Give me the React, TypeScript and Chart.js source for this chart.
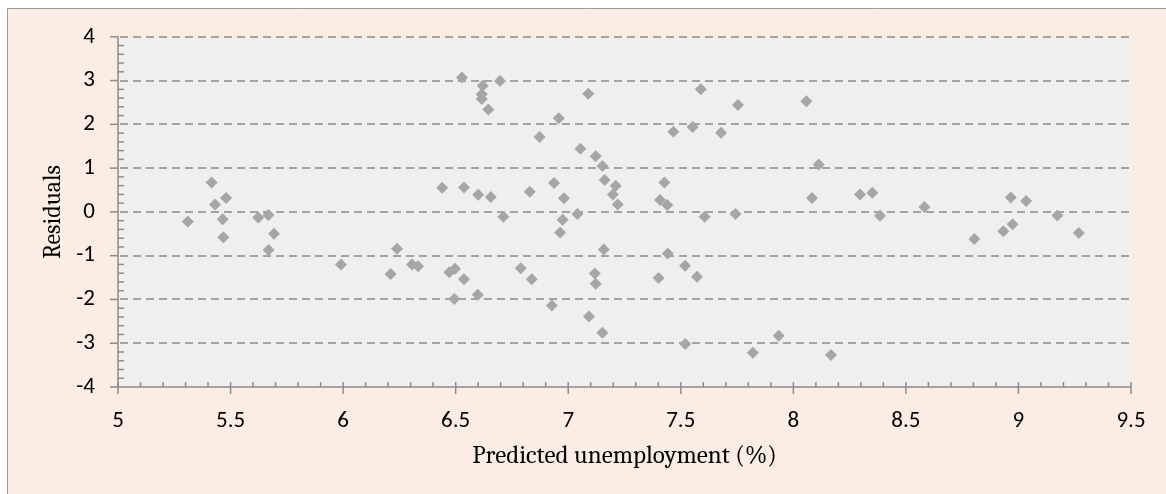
import React, { useEffect, useRef } from "react";
import { Chart, registerables } from "chart.js";

Chart.register(...registerables);

const predicted: number[] = [
  5.31, 5.416, 5.431, 5.48, 5.465, 5.468, 5.623, 5.668, 5.693, 5.669,
  5.991, 6.211, 6.239, 6.306, 6.333, 6.44, 6.472, 6.497, 6.494, 6.528,
  6.537, 6.537, 6.598, 6.6, 6.616, 6.616, 6.62, 6.645, 6.656, 6.697,
  6.712, 6.789, 6.829, 6.838, 6.873, 6.927, 6.937, 6.958, 6.964, 6.975,
  6.981, 7.041, 7.054, 7.089, 7.092, 7.118, 7.122, 7.122, 7.152, 7.152,
  7.158, 7.162, 7.198, 7.211, 7.22, 7.402, 7.408, 7.427, 7.44, 7.442,
  7.467, 7.519, 7.52, 7.553, 7.572, 7.589, 7.606, 7.679, 7.743, 7.754,
  7.82, 7.935, 8.058, 8.083, 8.113, 8.167, 8.296, 8.351, 8.385, 8.582,
  8.804, 8.933, 8.966, 8.974, 9.034, 9.173, 9.268,
];

const residuals: number[] = [
  -0.22, 0.67, 0.17, 0.32, -0.17, -0.58, -0.13, -0.07, -0.5, -0.87,
  -1.2, -1.42, -0.84, -1.2, -1.24, 0.55, -1.38, -1.3, -1.99, 3.07,
  0.56, -1.54, -1.89, 0.39, 2.69, 2.58, 2.88, 2.34, 0.34, 2.99,
  -0.11, -1.29, 0.46, -1.54, 1.71, -2.14, 0.66, 2.14, -0.47, -0.18,
  0.31, -0.05, 1.44, 2.7, -2.39, -1.41, -1.64, 1.27, 1.05, -2.76,
  -0.86, 0.73, 0.4, 0.6, 0.17, -1.51, 0.27, 0.67, 0.16, -0.95,
  1.83, -1.23, -3.02, 1.94, -1.48, 2.8, -0.11, 1.81, -0.05, 2.44,
  -3.22, -2.83, 2.53, 0.32, 1.08, -3.27, 0.4, 0.44, -0.09, 0.11,
  -0.62, -0.44, 0.33, -0.28, 0.25, -0.08, -0.48,
];

const xRange = { min: 5, max: 9.5, step: 0.5, minorStep: 0.1 };
const yRange = { min: -4, max: 4, step: 1, minorStep: 0.2 };

const xTitle = "Predicted unemployment (%)";
const yTitle = "Residuals";

const W = 1166;
const H = 494;
const TICK_FONT = "Carlito, Lato, sans-serif";
const TITLE_FONT = "Caladea, 'DejaVu Serif', serif";

const decorPlugin = {
  id: "decor",
  beforeDraw(chart: any) {
    const { ctx, chartArea } = chart;
    ctx.save();
    ctx.fillStyle = "#ffffff";
    ctx.fillRect(0, 0, W, H);
    ctx.fillStyle = "#FBEDE4";
    ctx.fillRect(7, 8, W, H);
    ctx.strokeStyle = "#9a9a9a";
    ctx.lineWidth = 1;
    ctx.beginPath();
    ctx.moveTo(7.5, H);
    ctx.lineTo(7.5, 8.5);
    ctx.lineTo(W, 8.5);
    ctx.stroke();
    ctx.fillStyle = "#F0EFED";
    ctx.fillRect(chartArea.left, chartArea.top, chartArea.right - chartArea.left, chartArea.bottom - chartArea.top);
    ctx.restore();
  },
  beforeDatasetsDraw(chart: any) {
    const { ctx, chartArea, scales } = chart;
    const xs = scales.x;
    const ys = scales.y;
    ctx.save();
    ctx.strokeStyle = "#A3A3A3";
    ctx.lineWidth = 2;
    ctx.setLineDash([8, 5]);
    for (let v = yRange.min + yRange.step; v <= yRange.max + 1e-9; v += yRange.step) {
      const py = Math.round(ys.getPixelForValue(v));
      ctx.beginPath();
      ctx.moveTo(chartArea.left + 2, py);
      ctx.lineTo(chartArea.right, py);
      ctx.stroke();
    }
    ctx.setLineDash([]);
    ctx.strokeStyle = "#8C8C8C";
    ctx.lineWidth = 1.5;
    const x0 = xs.getPixelForValue(xRange.min);
    const y0 = ys.getPixelForValue(yRange.min);
    ctx.beginPath();
    ctx.moveTo(x0, ys.getPixelForValue(yRange.max));
    ctx.lineTo(x0, y0);
    ctx.lineTo(xs.getPixelForValue(xRange.max), y0);
    ctx.stroke();
    const nY = Math.round((yRange.max - yRange.min) / yRange.minorStep);
    const perY = Math.round(yRange.step / yRange.minorStep);
    for (let i = 0; i <= nY; i++) {
      const v = yRange.min + i * yRange.minorStep;
      const py = ys.getPixelForValue(v);
      ctx.beginPath();
      if (i % perY === 0) {
        ctx.moveTo(x0 - 8, py);
        ctx.lineTo(x0, py);
      } else {
        ctx.moveTo(x0, py);
        ctx.lineTo(x0 + 6, py);
      }
      ctx.stroke();
    }
    const nX = Math.round((xRange.max - xRange.min) / xRange.minorStep);
    const perX = Math.round(xRange.step / xRange.minorStep);
    for (let i = 0; i <= nX; i++) {
      const v = xRange.min + i * xRange.minorStep;
      const px = xs.getPixelForValue(v);
      ctx.beginPath();
      if (i % perX === 0) {
        ctx.moveTo(px, y0 - 5);
        ctx.lineTo(px, y0 + 7);
      } else {
        ctx.moveTo(px, y0 - 5);
        ctx.lineTo(px, y0);
      }
      ctx.stroke();
    }
    ctx.restore();
  },
};

const fmt = (v: number | string) => String(Math.round(Number(v) * 10) / 10);

export default function App() {
  const ref = useRef<HTMLCanvasElement | null>(null);
  useEffect(() => {
    if (!ref.current) return;
    const points = predicted.map((x, i) => ({ x, y: residuals[i] }));
    const chart = new Chart(ref.current, {
      type: "scatter",
      data: {
        datasets: [
          {
            data: points,
            pointStyle: "rectRot",
            pointRadius: 6,
            pointHoverRadius: 6,
            backgroundColor: "#A6A6A6",
            borderColor: "#A6A6A6",
            borderWidth: 0,
          },
        ],
      },
      options: {
        responsive: false,
        animation: false,
        devicePixelRatio: 1,
        layout: { padding: { left: 0, top: 35, right: 35, bottom: 0 } },
        plugins: { legend: { display: false }, tooltip: { enabled: false } },
        scales: {
          x: {
            type: "linear",
            min: xRange.min,
            max: xRange.max,
            afterFit: (s: any) => {
              s.height = 107;
            },
            grid: { display: false, drawTicks: false },
            border: { display: false },
            ticks: {
              stepSize: xRange.step,
              padding: 20,
              color: "#000000",
              font: { family: TICK_FONT, size: 23 },
              maxRotation: 0,
              callback: fmt,
            },
            title: {
              display: true,
              text: xTitle,
              color: "#000000",
              font: { family: TITLE_FONT, size: 25 },
              padding: { top: 0, bottom: 23 },
            },
          },
          y: {
            type: "linear",
            min: yRange.min,
            max: yRange.max,
            afterFit: (s: any) => {
              s.width = 118;
            },
            grid: { display: false, drawTicks: false },
            border: { display: false },
            ticks: {
              stepSize: yRange.step,
              padding: 23,
              color: "#000000",
              font: { family: TICK_FONT, size: 23 },
              callback: fmt,
            },
            title: {
              display: true,
              text: yTitle,
              color: "#000000",
              font: { family: TITLE_FONT, size: 24 },
              padding: { top: 39, bottom: 0 },
            },
          },
        },
      },
      plugins: [decorPlugin],
    });
    return () => chart.destroy();
  }, []);
  return (
    <div style={{ position: "fixed", left: 0, top: 0, width: W, height: H, background: "#fff" }}>
      <canvas ref={ref} width={W} height={H} style={{ width: W, height: H, display: "block" }} />
    </div>
  );
}
